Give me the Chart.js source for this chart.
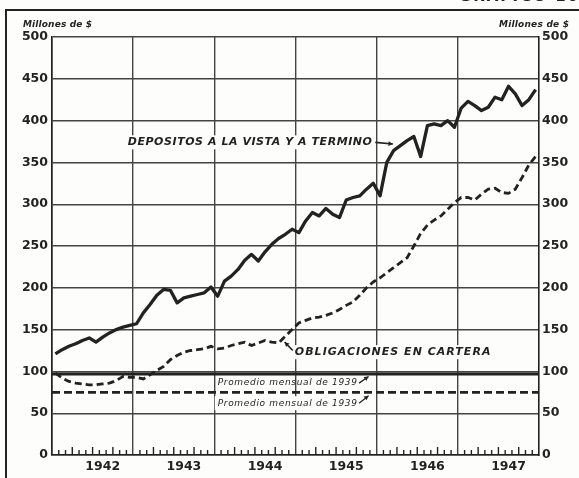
<!DOCTYPE html>
<html>
<head>
<meta charset="utf-8">
<script src="https://cdn.jsdelivr.net/npm/chart.js@4.4.0/dist/chart.umd.min.js"></script>
<style>
  html, body { margin: 0; padding: 0; background: #fdfdfb; }
  canvas { display: block; }
</style>
</head>
<body>
<canvas id="grafico" width="579" height="478"></canvas>
<script>
const INK = '#222222';
const GRID = '#444444';
const BG = '#fdfdfb';

const years = ['1942', '1943', '1944', '1945', '1946', '1947'];
const monthNames = ['Ene', 'Feb', 'Mar', 'Abr', 'May', 'Jun', 'Jul', 'Ago', 'Sep', 'Oct', 'Nov', 'Dic'];
const months = years.flatMap(y => monthNames.map(m => m + ' ' + y));

// millones de $
const depositos = [
  121, 126, 130, 133, 137, 140, 135, 141, 146, 150, 153, 155,
  157, 170, 180, 191, 198, 197, 182, 188, 190, 192, 194, 201,
  190, 208, 214, 222, 233, 240, 232, 243, 252, 259, 264, 270,
  266, 280, 290, 286, 295, 288, 284, 305, 308, 310, 318, 325,
  310, 350, 364, 370, 376, 381, 357, 394, 396, 394, 400, 392,
  415, 423, 418, 412, 416, 428, 425, 441, 432, 418, 425, 437
];
const obligaciones = [
  98, 92, 88, 86, 85, 84, 84, 85, 86, 89, 94, 93,
  93, 91, 96, 101, 106, 114, 119, 123, 125, 126, 127, 130,
  127, 128, 131, 133, 135, 131, 134, 137, 135, 134, 142, 150,
  158, 161, 164, 165, 167, 170, 174, 179, 183, 191, 200, 207,
  212, 218, 224, 230, 236, 250, 265, 275, 281, 286, 294, 302,
  308, 308, 305, 312, 318, 319, 314, 313, 318, 332, 347, 357
];
const promedioDepositos1939 = 97;
const promedioObligaciones1939 = 75;

// text fitted to a width by letter spacing
function spacedText(ctx, text, x, y, width, font, bg) {
  ctx.save();
  ctx.font = font;
  ctx.letterSpacing = '0px';
  const w0 = ctx.measureText(text).width;
  const sp = (width - w0) / Math.max(1, text.length - 1);
  ctx.letterSpacing = sp.toFixed(2) + 'px';
  if (bg) {
    ctx.fillStyle = BG;
    ctx.fillRect(x - 3, y - 7, width + 6, 14);
  }
  ctx.fillStyle = INK;
  ctx.textAlign = 'left';
  ctx.textBaseline = 'middle';
  ctx.fillText(text, x, y);
  ctx.restore();
}

function arrow(ctx, x1, y1, x2, y2, w) {
  ctx.save();
  ctx.strokeStyle = INK;
  ctx.fillStyle = INK;
  ctx.lineWidth = w || 1.5;
  ctx.beginPath();
  ctx.moveTo(x1, y1);
  ctx.lineTo(x2, y2);
  ctx.stroke();
  const a = Math.atan2(y2 - y1, x2 - x1);
  ctx.beginPath();
  ctx.moveTo(x2, y2);
  ctx.lineTo(x2 - 5 * Math.cos(a - 0.5), y2 - 5 * Math.sin(a - 0.5));
  ctx.lineTo(x2 - 5 * Math.cos(a + 0.5), y2 - 5 * Math.sin(a + 0.5));
  ctx.closePath();
  ctx.fill();
  ctx.restore();
}

const decor = {
  id: 'decor',
  beforeDatasetsDraw(chart) {
    const ctx = chart.ctx;
    const xs = chart.scales.x, ys = chart.scales.y;
    const area = chart.chartArea;
    const X = v => xs.getPixelForValue(v);
    const Y = v => ys.getPixelForValue(v);

    // monthly ticks on the base line
    ctx.save();
    ctx.strokeStyle = INK;
    ctx.lineWidth = 1.4;
    for (let i = 1; i < months.length; i++) {
      if (i % 12 === 0) continue;
      const h = (i % 3 === 0) ? 8 : 5;
      const px = X(i - 0.5);
      ctx.beginPath();
      ctx.moveTo(px, area.bottom);
      ctx.lineTo(px, area.bottom - h);
      ctx.stroke();
    }
    ctx.restore();

    // 1939 monthly averages
    ctx.save();
    ctx.strokeStyle = INK;
    ctx.lineWidth = 3;
    ctx.beginPath();
    ctx.moveTo(area.left, Y(promedioDepositos1939));
    ctx.lineTo(area.right, Y(promedioDepositos1939));
    ctx.stroke();
    ctx.lineWidth = 2.8;
    ctx.setLineDash([8, 4]);
    ctx.beginPath();
    ctx.moveTo(area.left, Y(promedioObligaciones1939));
    ctx.lineTo(area.right, Y(promedioObligaciones1939));
    ctx.stroke();
    ctx.restore();

    // labels
    spacedText(ctx, 'DEPOSITOS A LA VISTA Y A TERMINO', X(10.7), Y(374), X(46.8) - X(10.7),
      'bold italic 11px "DejaVu Sans"', true);
    arrow(ctx, X(47.3), Y(374), X(49.9), Y(372), 1.6);

    spacedText(ctx, 'OBLIGACIONES EN CARTERA', X(35.4), Y(123), X(64.3) - X(35.4),
      'bold italic 11px "DejaVu Sans"', true);
    arrow(ctx, X(35.1), Y(125), X(33.9), Y(135), 1.6);

    spacedText(ctx, 'Promedio mensual de 1939', X(24), Y(86), X(44.6) - X(24),
      'italic 9px "DejaVu Sans"', false);
    arrow(ctx, X(44.9), Y(86), X(46.3), Y(94), 1.3);

    spacedText(ctx, 'Promedio mensual de 1939', X(24), Y(62), X(44.6) - X(24),
      'italic 9px "DejaVu Sans"', true);
    arrow(ctx, X(44.9), Y(62), X(46.3), Y(71), 1.3);
  },
  afterDraw(chart) {
    const ctx = chart.ctx;
    ctx.save();
    // frame of the figure
    ctx.strokeStyle = INK;
    ctx.lineWidth = 2;
    ctx.beginPath();
    ctx.moveTo(6, 478);
    ctx.lineTo(6, 10);
    ctx.lineTo(579, 10);
    ctx.stroke();
    ctx.restore();

    spacedText(ctx, 'Millones de $', 23, 25, 69, 'bold italic 9px "DejaVu Sans"', false);
    spacedText(ctx, 'Millones de $', 499, 25, 70, 'bold italic 9px "DejaVu Sans"', false);

    ctx.save();
    ctx.font = 'bold 15px "DejaVu Sans"';
    ctx.letterSpacing = '2px';
    ctx.fillStyle = INK;
    ctx.textAlign = 'right';
    ctx.textBaseline = 'bottom';
    ctx.fillText('GRAFICO 10', 580, 5);
    ctx.restore();
  }
};

const tickFont = { family: 'DejaVu Sans', size: 12.5, weight: 'bold' };

new Chart(document.getElementById('grafico').getContext('2d'), {
  type: 'line',
  data: {
    labels: months,
    datasets: [{
      label: 'Depositos a la vista y a termino',
      data: depositos,
      borderColor: INK,
      borderWidth: 3.3,
      pointRadius: 0,
      tension: 0,
      borderJoinStyle: 'round'
    }, {
      label: 'Obligaciones en cartera',
      data: obligaciones,
      borderColor: INK,
      borderWidth: 2.8,
      borderDash: [7, 4],
      pointRadius: 0,
      tension: 0
    }]
  },
  options: {
    responsive: false,
    animation: false,
    layout: { padding: { top: 37, left: 0, right: 0, bottom: 0 } },
    plugins: { legend: { display: false }, tooltip: { enabled: false } },
    scales: {
      x: {
        type: 'category',
        offset: true,
        grid: {
          offset: true,
          drawTicks: false,
          lineWidth: 1.4,
          color: c => (c.index % 12 === 0 ? GRID : 'transparent')
        },
        border: { color: INK, width: 1.6 },
        ticks: {
          autoSkip: false,
          maxRotation: 0,
          padding: 4,
          color: INK,
          font: tickFont,
          callback: (v, i) => (i % 12 === 7 ? years[Math.floor(i / 12)] : '')
        },
        afterFit: s => { s.height = 23; }
      },
      y: {
        position: 'left',
        min: 0,
        max: 500,
        ticks: { stepSize: 50, padding: 4, color: INK, font: tickFont },
        grid: { drawTicks: false, color: GRID, lineWidth: 1.4 },
        border: { color: INK, width: 1.6 },
        afterFit: s => { s.width = 52; }
      },
      y2: {
        position: 'right',
        min: 0,
        max: 500,
        ticks: { stepSize: 50, padding: 3, color: INK, font: tickFont },
        grid: { drawOnChartArea: false, drawTicks: false },
        border: { color: INK, width: 1.6 },
        afterFit: s => { s.width = 40; }
      }
    }
  },
  plugins: [decor]
});
</script>
</body>
</html>
